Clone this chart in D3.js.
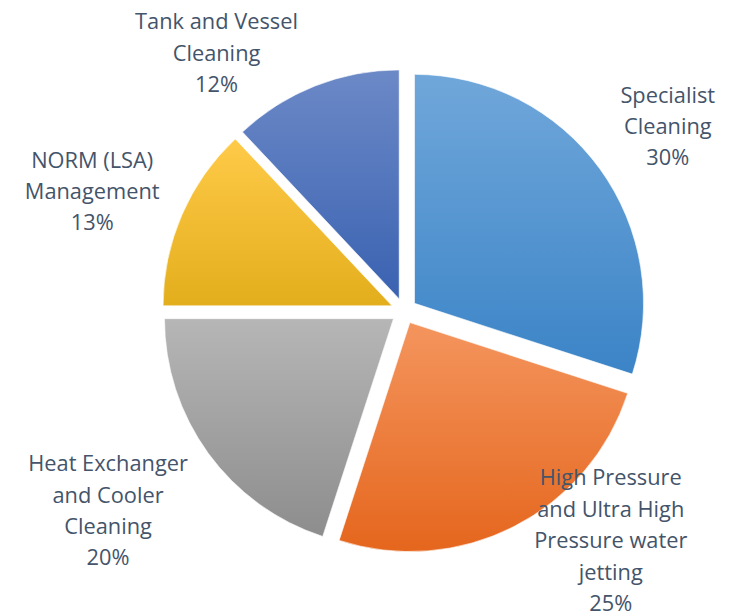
<!DOCTYPE html>
<html>
<head>
<meta charset="utf-8">
<script src="https://cdn.jsdelivr.net/npm/d3@7"></script>
<style>
  body { margin: 0; background: #fff; }
  svg { display: block; }
  .lbl { font-family: "Open Sans", sans-serif; font-size: 21.8px; fill: #44546a; }
</style>
</head>
<body>
<div id="chart"></div>
<script>
// Data
var categories = [
    "Specialist Cleaning",
    "High Pressure and Ultra High Pressure water jetting",
    "Heat Exchanger and Cooler Cleaning",
    "NORM (LSA) Management",
    "Tank and Vessel Cleaning"
];
var shares = [30, 25, 20, 13, 12];
var labelLines = [
    ["Specialist", "Cleaning"],
    ["High Pressure", "and Ultra High", "Pressure water", "jetting"],
    ["Heat Exchanger", "and Cooler", "Cleaning"],
    ["NORM (LSA)", "Management"],
    ["Tank and Vessel", "Cleaning"]
];

// Colours (top, bottom of each slice gradient)
var colorTop = ["#70a7da", "#f4955e", "#b6b6b6", "#ffca48", "#6c89c7"];
var colorBottom = ["#3b84c7", "#e5661d", "#8d8d8d", "#e3ae1c", "#3a62b1"];

// Dimensions
var width = 735, height = 615;
var cx = 404, cy = 311;
var radius = 229;
var explode = 13;
var lineH = 31.4;

// label placement: angle (deg from top, clockwise) and distance from center
var labelAngle = [55, 138, 236, 291, 324];
var labelDist = [322, 309, 357, 334, 319];

var svg = d3.select("#chart").append("svg")
    .attr("width", width)
    .attr("height", height);

var defs = svg.append("defs");
defs.selectAll("linearGradient")
    .data(shares)
    .enter()
    .append("linearGradient")
    .attr("id", function(d, i) { return "grad" + i; })
    .attr("x1", 0).attr("y1", 0).attr("x2", 0).attr("y2", 1)
    .each(function(d, i) {
        var g = d3.select(this);
        g.append("stop").attr("offset", "0%").attr("stop-color", colorTop[i]);
        g.append("stop").attr("offset", "100%").attr("stop-color", colorBottom[i]);
    });

var pie = d3.pie().sort(null).value(function(d) { return d; });
var arcs = pie(shares);

var arc = d3.arc().innerRadius(0).outerRadius(radius);

var g = svg.append("g")
    .attr("transform", "translate(" + cx + "," + cy + ")");

g.selectAll("path")
    .data(arcs)
    .enter()
    .append("path")
    .attr("d", arc)
    .attr("transform", function(d) {
        var a = (d.startAngle + d.endAngle) / 2;
        return "translate(" + (Math.sin(a) * explode) + "," + (-Math.cos(a) * explode) + ")";
    })
    .attr("fill", function(d, i) { return "url(#grad" + i + ")"; })
    .attr("stroke", "#ffffff")
    .attr("stroke-opacity", 0.6)
    .attr("stroke-width", 1);

// Labels
var labels = g.selectAll("text.lbl")
    .data(arcs)
    .enter()
    .append("text")
    .attr("class", "lbl")
    .attr("text-anchor", "middle")
    .each(function(d, i) {
        var a = labelAngle[i] * Math.PI / 180;
        var x = Math.sin(a) * labelDist[i];
        var y = -Math.cos(a) * labelDist[i];
        var lines = labelLines[i].concat([shares[i] + "%"]);
        var y0 = y - (lines.length - 1) * lineH / 2;
        var t = d3.select(this);
        lines.forEach(function(s, k) {
            t.append("tspan")
                .attr("x", x)
                .attr("y", y0 + k * lineH)
                .attr("dy", "0.35em")
                .text(s);
        });
    });
</script>
</body>
</html>
